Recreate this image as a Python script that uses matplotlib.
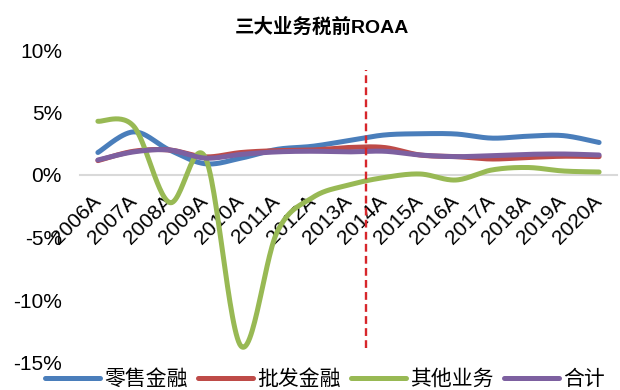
import matplotlib
matplotlib.use("Agg")
import matplotlib.pyplot as plt
import numpy as np
from matplotlib.lines import Line2D

# pre-tax ROAA by business line, % of average assets
years = ["2006A", "2007A", "2008A", "2009A", "2010A", "2011A", "2012A", "2013A",
         "2014A", "2015A", "2016A", "2017A", "2018A", "2019A", "2020A"]
retail = [1.8, 3.45, 2.0, 0.9, 1.35, 2.05, 2.3, 2.75, 3.2, 3.3, 3.28, 2.95, 3.1, 3.15, 2.6]
wholesale = [1.15, 1.9, 2.0, 1.45, 1.8, 1.95, 2.0, 2.2, 2.2, 1.6, 1.47, 1.28, 1.4, 1.5, 1.47]
other = [4.3, 3.9, -2.2, 1.4, -13.7, -4.6, -1.8, -0.8, -0.2, 0.08, -0.4, 0.4, 0.6, 0.32, 0.24]
total = [1.2, 1.85, 2.0, 1.35, 1.65, 1.85, 1.9, 1.85, 1.9, 1.6, 1.47, 1.55, 1.65, 1.68, 1.6]

series_names = ["零售金融", "批发金融", "其他业务", "合计"]
series_colors = ["#4A7EBB", "#BE4B48", "#98B954", "#7D60A0"]

# boundary between 2013A and 2014A, and the span of the dashed marker
divider_x = 7.5
divider_span = (-13.8, 8.4)

CJK = ["Noto Sans CJK SC", "DejaVu Sans"]
LATIN = ["Liberation Sans", "Noto Sans CJK SC"]


def smooth(y, n=30):
    """Catmull-Rom style Bezier smoothing, like a spreadsheet 'smoothed line'."""
    y = np.asarray(y, dtype=float)
    x = np.arange(len(y), dtype=float)
    pts = np.column_stack([x, y])
    padded = np.vstack([pts[0], pts, pts[-1]])
    t = np.linspace(0, 1, n)[:, None]
    out = []
    for i in range(len(pts) - 1):
        p0, p1, p2, p3 = padded[i], padded[i + 1], padded[i + 2], padded[i + 3]
        c1 = p1 + (p2 - p0) / 6.0
        c2 = p2 - (p3 - p1) / 6.0
        seg = ((1 - t) ** 3) * p1 + 3 * ((1 - t) ** 2) * t * c1 \
            + 3 * (1 - t) * t ** 2 * c2 + t ** 3 * p2
        out.append(seg if i == 0 else seg[1:])
    seg = np.vstack(out)
    return seg[:, 0], seg[:, 1]


fig = plt.figure(figsize=(6.2, 3.9), dpi=100)
ax = fig.add_axes([80 / 620, 1 - 362.5 / 390, 537 / 620, 312.5 / 390])

lw = 3.6
for values, color in zip([retail, wholesale, other, total], series_colors):
    sx, sy = smooth(values)
    ax.plot(sx, sy, color=color, linewidth=lw, solid_capstyle="round",
            solid_joinstyle="round")

ax.plot([divider_x, divider_x], divider_span, color="#D7262B", linewidth=1.7,
        dashes=(3.3, 1.8))

ax.set_xlim(-0.5, len(years) - 0.5)
ax.set_ylim(-15, 10)

# category axis crosses at zero
for side in ["top", "right", "left"]:
    ax.spines[side].set_visible(False)
ax.spines["bottom"].set_position(("data", 0))
ax.spines["bottom"].set_color("#D9D9D9")
ax.spines["bottom"].set_linewidth(1.5)
ax.spines["bottom"].set_zorder(0)

ax.set_xticks(range(len(years)))
ax.set_xticklabels(years, rotation=45, ha="right", va="center",
                   rotation_mode="anchor", family=LATIN, fontsize=15)
ax.tick_params(axis="x", length=0, pad=17)

yticks = [-15, -10, -5, 0, 5, 10]
ax.set_yticks(yticks)
ax.set_yticklabels([f"{v}%" for v in yticks], family=LATIN, fontsize=15)
ax.tick_params(axis="y", length=0, pad=13)

fig.text(322 / 620, 1 - 27 / 390, "三大业务税前ROAA", ha="center", va="center",
         fontsize=14, fontweight="bold", family=LATIN)

handles = [Line2D([], [], color=c, linewidth=lw, solid_capstyle="round")
           for c in series_colors]
fig.legend(handles, series_names, ncol=4, loc="center",
           bbox_to_anchor=(325 / 620, 1 - 379 / 390), frameon=False,
           prop={"family": CJK, "size": 15}, handlelength=2.64,
           handletextpad=0.2, columnspacing=0.5, borderpad=0, borderaxespad=0)

fig.savefig("out.png", dpi=100)
